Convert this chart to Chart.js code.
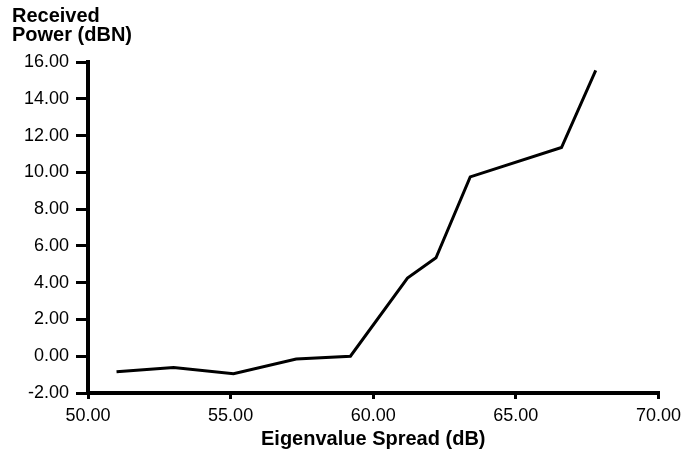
<!DOCTYPE html>
<html lang="en">
<head>
    <meta charset="UTF-8">
    <title>Received Power vs Eigenvalue Spread</title>
    <script src="https://cdn.jsdelivr.net/npm/chart.js"></script>
    <style>
        html, body { margin: 0; padding: 0; background: #fff; }
        #wrap { position: relative; width: 687px; height: 459px; }
    </style>
</head>
<body>
    <div id="wrap">
        <canvas id="chart" width="687" height="459"></canvas>
    </div>
    <script>
        // values
        const spread = [51.0, 53.0, 55.1, 57.3, 59.2, 61.2, 62.2, 63.4, 66.6, 67.8];
        const power = [-0.85, -0.62, -0.95, -0.15, 0.0, 4.25, 5.35, 9.75, 11.35, 15.55];
        const xTicks = [50, 55, 60, 65, 70];
        const yTicks = [-2, 0, 2, 4, 6, 8, 10, 12, 14, 16];
        const yTitle = ['Received', 'Power (dBN)'];
        const xTitle = 'Eigenvalue Spread (dB)';

        const points = spread.map((x, i) => ({ x: x, y: power[i] }));
        const fontFamily = '"Liberation Sans", Arial, Helvetica, sans-serif';

        // y axis title sits above the axis, top-left
        const cornerTitle = {
            id: 'cornerTitle',
            afterDraw(chart) {
                const c = chart.ctx;
                c.save();
                c.fillStyle = '#000';
                c.font = 'bold 20px ' + fontFamily;
                c.textBaseline = 'top';
                c.textAlign = 'left';
                c.fillText(yTitle[0], 12, 6);
                c.fillText(yTitle[1], 12, 25);
                c.restore();
            }
        };

        const ctx = document.getElementById('chart').getContext('2d');
        new Chart(ctx, {
            type: 'scatter',
            data: {
                datasets: [{
                    data: points,
                    showLine: true,
                    borderColor: '#000',
                    borderWidth: 3,
                    pointRadius: 0,
                    tension: 0
                }]
            },
            options: {
                responsive: false,
                animation: false,
                layout: { padding: { top: 62, right: 26, bottom: 0, left: 0 } },
                plugins: { legend: { display: false }, tooltip: { enabled: false } },
                scales: {
                    x: {
                        type: 'linear',
                        min: 50,
                        max: 70,
                        afterBuildTicks: s => { s.ticks = xTicks.map(v => ({ value: v })); },
                        afterFit: s => { s.height = 66; },
                        border: { color: '#000', width: 4 },
                        grid: { drawOnChartArea: false, color: '#000', lineWidth: 3, tickLength: 6 },
                        ticks: {
                            color: '#000',
                            padding: 6,
                            maxRotation: 0,
                            font: { family: fontFamily, size: 18 },
                            callback: v => v.toFixed(2)
                        },
                        title: {
                            display: true,
                            text: xTitle,
                            color: '#000',
                            font: { family: fontFamily, size: 20, weight: 'bold' },
                            padding: { top: 0, bottom: 8 }
                        }
                    },
                    y: {
                        min: -2,
                        max: 16,
                        afterBuildTicks: s => { s.ticks = yTicks.map(v => ({ value: v })); },
                        afterFit: s => { s.width = 88; },
                        border: { color: '#000', width: 4 },
                        grid: { drawOnChartArea: false, color: '#000', lineWidth: 3, tickLength: 12 },
                        ticks: {
                            color: '#000',
                            padding: 7,
                            font: { family: fontFamily, size: 18 },
                            callback: v => v.toFixed(2)
                        }
                    }
                }
            },
            plugins: [cornerTitle]
        });
    </script>
</body>
</html>
